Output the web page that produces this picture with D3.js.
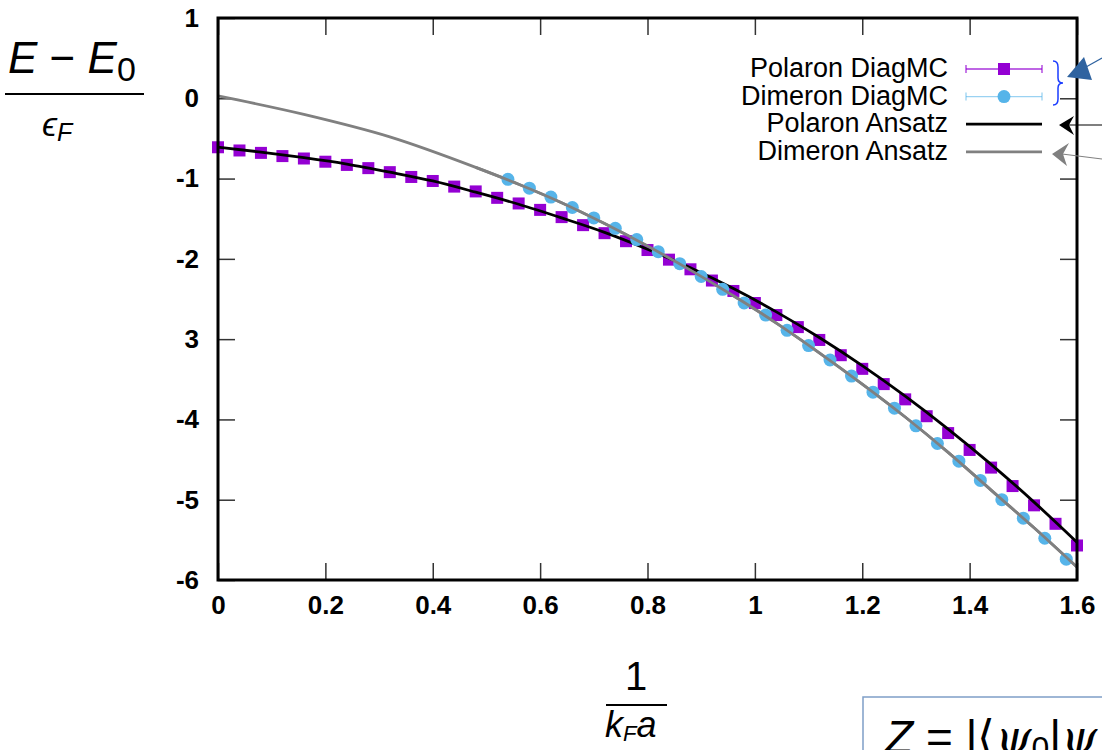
<!DOCTYPE html>
<html lang="en">
<head>
  <meta charset="UTF-8" />
  <title>Polaron / Dimeron energy</title>
  <style>
    html, body { margin: 0; padding: 0; background: #fff; }
    svg { display: block; }
    .tick line { stroke: #333; stroke-width: 1.5px; }
    .legend text { font-family: "Liberation Sans", Arial, sans-serif; font-size: 27px; fill: #000; text-anchor: end; dominant-baseline: middle; }
    .math { font-family: "Liberation Sans", Arial, sans-serif; font-style: italic; fill: #000; }
  </style>
</head>
<body>
  <svg width="1102" height="750"></svg>
  <script src="https://d3js.org/d3.v7.min.js"></script>
  <script>
    // x ticks and y ticks as printed on the figure
    const xTicks = [0, 0.2, 0.4, 0.6, 0.8, 1, 1.2, 1.4, 1.6];
    const xTickLabels = ["0", "0.2", "0.4", "0.6", "0.8", "1", "1.2", "1.4", "1.6"];
    const yTicks = [1, 0, -1, -2, -3, -4, -5, -6];
    const yTickLabels = ["1", "0", "-1", "-2", "3", "-4", "-5", "-6"];

    // Polaron DiagMC (squares)
    const polaronX = [0, 0.04, 0.08, 0.12, 0.16, 0.20, 0.24, 0.28, 0.32, 0.36, 0.40, 0.44, 0.48, 0.52,
      0.56, 0.60, 0.64, 0.68, 0.72, 0.76, 0.80, 0.84, 0.88, 0.92, 0.96, 1.00, 1.04, 1.08, 1.12, 1.16,
      1.20, 1.24, 1.28, 1.32, 1.36, 1.40, 1.44, 1.48, 1.52, 1.56, 1.60];
    const polaronE = [-0.61, -0.65, -0.68, -0.72, -0.75, -0.79, -0.83, -0.87, -0.92, -0.98, -1.03, -1.10, -1.16, -1.24,
      -1.31, -1.39, -1.48, -1.58, -1.68, -1.78, -1.89, -2.01, -2.13, -2.27, -2.40, -2.55, -2.70, -2.85, -3.01, -3.20,
      -3.37, -3.56, -3.75, -3.96, -4.17, -4.38, -4.60, -4.83, -5.07, -5.30, -5.57];

    // Dimeron DiagMC (circles)
    const dimeronX = [0.54, 0.58, 0.62, 0.66, 0.70, 0.74, 0.78, 0.82, 0.86, 0.90, 0.94, 0.98, 1.02, 1.06,
      1.10, 1.14, 1.18, 1.22, 1.26, 1.30, 1.34, 1.38, 1.42, 1.46, 1.50, 1.54, 1.58];
    const dimeronE = [-1.01, -1.12, -1.23, -1.36, -1.49, -1.62, -1.76, -1.91, -2.06, -2.22, -2.38, -2.55, -2.70, -2.89,
      -3.08, -3.26, -3.46, -3.66, -3.86, -4.08, -4.30, -4.52, -4.76, -5.00, -5.23, -5.48, -5.74];

    // Ansatz curves
    const polAnsatzX = [0, 0.08, 0.16, 0.24, 0.32, 0.40, 0.48, 0.56, 0.64, 0.72, 0.80, 0.88, 0.96, 1.04, 1.12, 1.20, 1.28, 1.36, 1.44, 1.52, 1.60];
    const polAnsatzE = [-0.61, -0.67, -0.74, -0.82, -0.92, -1.03, -1.17, -1.32, -1.49, -1.67, -1.88, -2.11, -2.37, -2.66, -2.98, -3.33, -3.71, -4.12, -4.56, -5.03, -5.53];
    const dimAnsatzX = [0, 0.16, 0.32, 0.48, 0.56, 0.64, 0.72, 0.80, 0.88, 0.96, 1.04, 1.12, 1.20, 1.28, 1.36, 1.44, 1.52, 1.60];
    const dimAnsatzE = [0.03, -0.20, -0.48, -0.86, -1.07, -1.30, -1.56, -1.84, -2.14, -2.46, -2.80, -3.17, -3.56, -3.97, -4.41, -4.88, -5.35, -5.84];

    const legendLabels = ["Polaron DiagMC", "Dimeron DiagMC", "Polaron Ansatz", "Dimeron Ansatz"];

    const violet = "#9400d3", sky = "#56b4e9", grey = "#808080";

    const svg = d3.select("svg");
    const x = d3.scaleLinear().domain([0, 1.6]).range([218, 1077]);
    const y = d3.scaleLinear().domain([-6, 1]).range([580, 18]);

    // bold tick labels, set inline so the axis defaults do not win
    function styleAxis(g) {
      g.select(".domain").remove();
      g.selectAll(".tick text")
        .style("font-family", "'Liberation Sans', Arial, sans-serif")
        .style("font-weight", "bold")
        .style("font-size", "26px")
        .attr("fill", "#000");
    }

    // axes with inward ticks, mirrored on top/right
    const tick = 17;
    svg.append("g").attr("transform", `translate(0,${y(-6)})`)
      .call(d3.axisBottom(x).tickValues(xTicks).tickSizeInner(-tick).tickSizeOuter(0).tickPadding(16)
        .tickFormat((d, i) => xTickLabels[i]))
      .call(styleAxis);
    svg.append("g").attr("transform", `translate(0,${y(1)})`)
      .call(d3.axisTop(x).tickValues(xTicks).tickSizeInner(-tick).tickSizeOuter(0).tickFormat(""))
      .call(styleAxis);
    svg.append("g").attr("transform", `translate(${x(0)},0)`)
      .call(d3.axisLeft(y).tickValues(yTicks).tickSizeInner(-tick).tickSizeOuter(0).tickPadding(19)
        .tickFormat((d, i) => yTickLabels[i]))
      .call(styleAxis);
    svg.append("g").attr("transform", `translate(${x(1.6)},0)`)
      .call(d3.axisRight(y).tickValues(yTicks).tickSizeInner(-tick).tickSizeOuter(0).tickFormat(""))
      .call(styleAxis);

    // curves
    const line = d3.line().x(d => x(d[0])).y(d => y(d[1])).curve(d3.curveMonotoneX);
    svg.append("path").datum(dimAnsatzX.map((v, i) => [v, dimAnsatzE[i]]))
      .attr("d", line).attr("fill", "none").attr("stroke", grey).attr("stroke-width", 2.8);

    // markers
    const sq = 12;
    svg.append("g").selectAll("rect")
      .data(polaronX.map((v, i) => [v, polaronE[i]]))
      .join("rect")
      .attr("x", d => x(d[0]) - sq / 2).attr("y", d => y(d[1]) - sq / 2)
      .attr("width", sq).attr("height", sq).attr("fill", violet);

    svg.append("path").datum(polAnsatzX.map((v, i) => [v, polAnsatzE[i]]))
      .attr("d", line).attr("fill", "none").attr("stroke", "#000").attr("stroke-width", 2.8);

    svg.append("g").selectAll("circle")
      .data(dimeronX.map((v, i) => [v, dimeronE[i]]))
      .join("circle")
      .attr("cx", d => x(d[0])).attr("cy", d => y(d[1])).attr("r", 6.5).attr("fill", sky);

    svg.append("path").datum(dimAnsatzX.map((v, i) => [v, dimAnsatzE[i]]).filter(d => d[0] >= 0.48))
      .attr("d", line).attr("fill", "none").attr("stroke", grey).attr("stroke-width", 2.8);

    // frame
    svg.append("rect").attr("x", x(0)).attr("y", y(1))
      .attr("width", x(1.6) - x(0)).attr("height", y(-6) - y(1))
      .attr("fill", "none").attr("stroke", "#000").attr("stroke-width", 3);

    // legend
    const leg = svg.append("g").attr("class", "legend");
    const rowY = i => 69 + i * 27.6;
    legendLabels.forEach((t, i) => {
      leg.append("text").attr("x", 948).attr("y", rowY(i) + 1).text(t);
    });
    [[violet, 0], [sky, 1]].forEach(([c, i]) => {
      const yy = rowY(i);
      leg.append("line").attr("x1", 966).attr("x2", 1042).attr("y1", yy).attr("y2", yy)
        .attr("stroke", c).attr("stroke-width", 1.3).attr("stroke-opacity", i ? 0.6 : 0.8);
      [966, 1042].forEach(xx => leg.append("line").attr("x1", xx).attr("x2", xx)
        .attr("y1", yy - 4).attr("y2", yy + 4).attr("stroke", c).attr("stroke-width", 1.3).attr("stroke-opacity", i ? 0.6 : 0.8));
    });
    leg.append("rect").attr("x", 1004 - sq / 2).attr("y", rowY(0) - sq / 2).attr("width", sq).attr("height", sq).attr("fill", violet);
    leg.append("circle").attr("cx", 1004).attr("cy", rowY(1)).attr("r", 6.5).attr("fill", sky);
    leg.append("line").attr("x1", 966).attr("x2", 1042).attr("y1", rowY(2)).attr("y2", rowY(2)).attr("stroke", "#000").attr("stroke-width", 2.8);
    leg.append("line").attr("x1", 966).attr("x2", 1042).attr("y1", rowY(3)).attr("y2", rowY(3)).attr("stroke", grey).attr("stroke-width", 2.8);

    // annotations: brace and arrows at the right edge
    svg.append("path")
      .attr("d", "M1053,61 Q1058,61 1058,67 L1058,78 Q1058,83 1063,83 Q1058,83 1058,88 L1058,99 Q1058,105 1053,105")
      .attr("fill", "none").attr("stroke", "#1a3cff").attr("stroke-width", 1.5);
    svg.append("line").attr("x1", 1102).attr("y1", 58).attr("x2", 1086).attr("y2", 67)
      .attr("stroke", "#2f63a0").attr("stroke-width", 1.2);
    svg.append("path").attr("d", "M1067,77 L1084,57 L1092,80 Z").attr("fill", "#2f63a0");
    svg.append("line").attr("x1", 1102).attr("y1", 125).attr("x2", 1066).attr("y2", 125)
      .attr("stroke", "#000").attr("stroke-width", 1.2);
    svg.append("path").attr("d", "M1059,125 L1074,116 L1069,125 L1074,135 Z").attr("fill", "#000");
    svg.append("line").attr("x1", 1102).attr("y1", 159).attr("x2", 1062).attr("y2", 154)
      .attr("stroke", grey).attr("stroke-width", 1.2);
    svg.append("path").attr("d", "M1052,154 L1069,143 L1063,154 L1067,166 Z").attr("fill", grey);

    // y-axis label (fraction)
    const yl = svg.append("g").attr("class", "math");
    const yt = yl.append("text").attr("x", 8).attr("y", 73).attr("font-size", 44);
    yt.append("tspan").text("E");
    yt.append("tspan").attr("font-style", "normal").text(" − ");
    yt.append("tspan").text("E");
    yt.append("tspan").attr("font-style", "normal").attr("font-size", 34).attr("dy", 8).text("0");
    yl.append("line").attr("x1", 5).attr("x2", 144).attr("y1", 94).attr("y2", 94).attr("stroke", "#000").attr("stroke-width", 2);
    const yb = yl.append("text").attr("x", 42).attr("y", 136).attr("font-size", 34);
    yb.append("tspan").text("ϵ");
    yb.append("tspan").attr("font-size", 25).attr("dy", 5).text("F");

    // x-axis label (fraction)
    const xl = svg.append("g").attr("class", "math");
    xl.append("text").attr("x", 636).attr("y", 690).attr("font-size", 40)
      .attr("font-style", "normal").attr("text-anchor", "middle").text("1");
    xl.append("line").attr("x1", 606).attr("x2", 667).attr("y1", 705).attr("y2", 705).attr("stroke", "#000").attr("stroke-width", 2);
    const xb = xl.append("text").attr("x", 605).attr("y", 737).attr("font-size", 36);
    xb.append("tspan").text("k");
    xb.append("tspan").attr("font-size", 22).attr("dy", 4).text("F");
    xb.append("tspan").attr("dy", -4).text("a");

    // clipped box in the lower right corner
    svg.append("rect").attr("x", 863).attr("y", 697).attr("width", 300).attr("height", 100)
      .attr("fill", "#fff").attr("stroke", "#7f9fc7").attr("stroke-width", 1.5);
    const zt = svg.append("text").attr("class", "math").attr("x", 885).attr("y", 753).attr("font-size", 46);
    zt.append("tspan").text("Z");
    zt.append("tspan").attr("font-style", "normal").text(" = |⟨");
    zt.append("tspan").attr("font-family", "DejaVu Serif").text("ψ");
    zt.append("tspan").attr("font-style", "normal").attr("font-size", 32).attr("dy", 6).text("0");
    zt.append("tspan").attr("font-style", "normal").attr("dy", -6).text("|");
    zt.append("tspan").attr("font-family", "DejaVu Serif").text("ψ");
  </script>
</body>
</html>
